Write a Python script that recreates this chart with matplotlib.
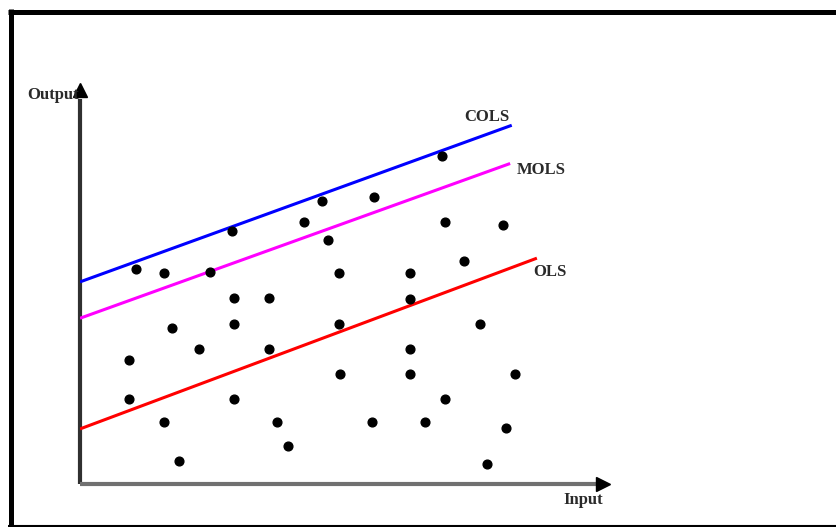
import numpy as np
import matplotlib.pyplot as plt
from matplotlib.lines import Line2D

# observations (input, output)
x_obs = [1.05, 1.57, 2.43, 2.84, 4.19, 4.52, 4.64, 5.50, 6.77, 6.82, 7.91, 7.18, 4.84,
         6.17, 2.88, 3.53, 6.17, 1.72, 2.88, 4.84, 7.48, 0.92, 2.22, 3.53, 6.17, 4.86,
         6.17, 8.13, 0.92, 2.88, 6.82, 1.57, 3.68, 5.46, 6.45, 7.96, 3.89, 1.85, 7.61]
y_obs = [4.02, 3.94, 3.96, 4.73, 4.90, 5.29, 4.56, 5.36, 6.13, 4.90, 4.84, 4.17, 3.94,
         3.94, 3.48, 3.48, 3.46, 2.92, 2.99, 2.99, 2.99, 2.32, 2.52, 2.52, 2.52, 2.06,
         2.06, 2.06, 1.59, 1.59, 1.59, 1.16, 1.16, 1.16, 1.16, 1.05, 0.71, 0.43, 0.37]

# frontier / regression lines
line_names = ['COLS', 'MOLS', 'OLS']
intercepts = [3.78, 3.10, 1.03]
slopes = [0.363, 0.360, 0.374]
x_ends = [8.07, 8.04, 8.54]
line_colors = ['#0000ff', '#ff00ff', '#ff0000']
label_pos = [(7.61, 6.86), (8.62, 5.87), (8.79, 3.96)]

W, H = 836, 527
fig = plt.figure(figsize=(W / 100, H / 100), dpi=100)

# outer frame
fig.add_artist(Line2D([8 / W, 1], [1 - 11.5 / H] * 2, color='black', lw=3.6,
                      transform=fig.transFigure, solid_capstyle='butt'))
fig.add_artist(Line2D([10.5 / W] * 2, [0, 1 - 9 / H], color='black', lw=3.6,
                      transform=fig.transFigure, solid_capstyle='butt'))
fig.add_artist(Line2D([8 / W, 1], [1.5 / H] * 2, color='black', lw=1.5,
                      transform=fig.transFigure, solid_capstyle='butt'))

ax = fig.add_axes([80 / W, 43 / H, 535 / W, 401 / H])
ax.set_xlim(0, 10)
ax.set_ylim(0, 7.5)
ax.axis('off')

# axes with arrow heads
ax.plot([0, 0], [0, 7.2], color='#303030', lw=3, solid_capstyle='butt', clip_on=False)
ax.plot([0, 9.7], [0, 0], color='#707070', lw=3, solid_capstyle='butt', clip_on=False)
ax.plot([0], [7.37], marker='^', color='black', ms=10, clip_on=False)
ax.plot([9.77], [0], marker='>', color='black', ms=10, clip_on=False)

txt = dict(fontsize=12, fontweight='bold', family='Liberation Serif', color='#2a2a2a')

for name, b, m, xe, c, (tx, ty) in zip(line_names, intercepts, slopes, x_ends,
                                        line_colors, label_pos):
    xs = np.array([0, xe])
    ax.plot(xs, b + m * xs, color=c, lw=2.2, solid_capstyle='butt')
    ax.text(tx, ty, name, ha='center', va='center', **txt)

ax.plot(x_obs, y_obs, 'o', color='black', ms=6.3, zorder=5)

ax.text(-0.02, 7.28, 'Output', ha='right', va='center', **txt)
ax.text(9.4, -0.3, 'Input', ha='center', va='center', **txt)

fig.savefig('out.png', dpi=100)
